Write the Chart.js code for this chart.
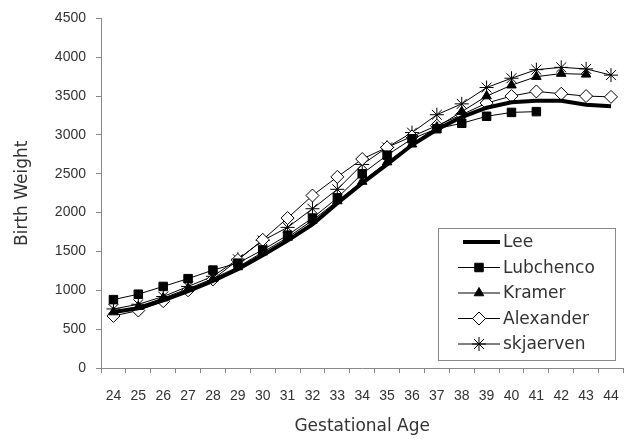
<!DOCTYPE html>
<html>
<head>
<meta charset="utf-8">
<script src="https://cdn.jsdelivr.net/npm/chart.js@4"></script>
<style>
  html, body { margin: 0; padding: 0; background: #fff; }
  #wrap { width: 634px; height: 444px; }
</style>
</head>
<body>
<div id="wrap"><canvas id="myChart" width="634" height="444"></canvas></div>
<script>
var weeks = ['24', '25', '26', '27', '28', '29', '30', '31', '32', '33', '34', '35', '36', '37', '38', '39', '40', '41', '42', '43', '44'];
var lee = [720, 770, 870, 990, 1120, 1270, 1450, 1640, 1850, 2120, 2380, 2620, 2870, 3070, 3230, 3350, 3420, 3440, 3440, 3390, 3370];
var lubchenco = [880, 950, 1050, 1150, 1260, 1350, 1520, 1710, 1930, 2190, 2500, 2740, 2950, 3080, 3150, 3240, 3290, 3300, null, null, null];
var kramer = [720, 790, 900, 1020, 1150, 1300, 1490, 1680, 1900, 2150, 2400, 2650, 2880, 3100, 3300, 3500, 3640, 3750, 3790, 3780, null];
var alexander = [670, 740, 860, 1000, 1140, 1390, 1650, 1930, 2220, 2460, 2690, 2840, 2980, 3120, 3260, 3410, 3500, 3560, 3530, 3500, 3490];
var skjaerven = [760, 820, 920, 1050, 1180, 1400, 1640, 1810, 2050, 2300, 2620, 2840, 3030, 3260, 3400, 3610, 3730, 3840, 3870, 3850, 3770];
var yTicks = [0, 500, 1000, 1500, 2000, 2500, 3000, 3500, 4000, 4500];

var fontName = "'Liberation Sans', 'DejaVu Sans', sans-serif";
var titleFont = "'DejaVu Sans', sans-serif";
var txt = '#333';

// legend drawn inside the plot, lower right, like the original
var boxLegend = {
    id: 'boxLegend',
    afterDraw: function(chart) {
        var ctx = chart.ctx;
        var x0 = 438, y0 = 228, w = 177, h = 132;
        ctx.save();
        ctx.fillStyle = '#fff';
        ctx.fillRect(x0, y0, w, h);
        ctx.strokeStyle = '#888';
        ctx.lineWidth = 1;
        ctx.strokeRect(x0 + 0.5, y0 + 0.5, w, h);
        chart.data.datasets.forEach(function(ds, i) {
            var y = 242 + i * 25.5;
            ctx.strokeStyle = '#000';
            ctx.lineWidth = ds.borderWidth;
            ctx.beginPath();
            ctx.moveTo(i === 0 ? 463 : 458, y);
            ctx.lineTo(500, y);
            ctx.stroke();
            if (ds.pointRadius > 0) {
                ctx.fillStyle = ds.pointBackgroundColor;
                ctx.strokeStyle = '#000';
                ctx.lineWidth = 1;
                Chart.helpers.drawPoint(ctx, {
                    pointStyle: ds.pointStyle,
                    radius: ds.pointRadius,
                    borderWidth: 1
                }, 479, y);
            }
            ctx.fillStyle = txt;
            ctx.font = '17px ' + titleFont;
            ctx.textBaseline = 'middle';
            ctx.textAlign = 'left';
            ctx.fillText(ds.label, 503, y + 1);
        });
        ctx.restore();
    }
};

function series(label, data, style, radius, fill, width) {
    return {
        label: label,
        data: data,
        borderColor: '#000',
        borderWidth: width,
        pointStyle: style,
        pointRadius: radius,
        pointHoverRadius: radius,
        pointBackgroundColor: fill,
        pointBorderColor: '#000',
        pointBorderWidth: 1,
        tension: 0,
        spanGaps: false
    };
}

var cvas = document.getElementById('myChart').getContext('2d');
var myChart = new Chart(cvas, {
    type: 'line',
    data: {
        labels: weeks,
        datasets: [
            series('Lee', lee, 'circle', 0, '#000', 4),
            series('Lubchenco', lubchenco, 'rect', 6, '#000', 1),
            series('Kramer', kramer, 'triangle', 5.5, '#000', 1),
            series('Alexander', alexander, 'rectRot', 6.5, '#fff', 1),
            series('skjaerven', skjaerven, 'star', 7, '#000', 1)
        ]
    },
    options: {
        responsive: false,
        animation: false,
        layout: { padding: { top: 10, right: 9, left: 0, bottom: 0 } },
        plugins: {
            legend: { display: false },
            tooltip: { enabled: false }
        },
        scales: {
            x: {
                offset: true,
                grid: {
                    offset: true,
                    drawOnChartArea: false,
                    drawTicks: true,
                    tickLength: 5,
                    color: '#888'
                },
                border: { color: '#888', width: 1 },
                ticks: {
                    color: txt,
                    font: { family: fontName, size: 14 },
                    padding: 15,
                    maxRotation: 0,
                    autoSkip: false
                },
                title: {
                    display: true,
                    text: 'Gestational Age',
                    color: txt,
                    font: { family: titleFont, size: 17 },
                    padding: { top: 0, bottom: 7 }
                },
                afterFit: function(scale) { scale.height = 76; }
            },
            y: {
                min: 0,
                max: 4500,
                afterBuildTicks: function(scale) {
                    scale.ticks = yTicks.map(function(v) { return { value: v }; });
                },
                grid: {
                    drawOnChartArea: false,
                    drawTicks: true,
                    tickLength: 5,
                    color: '#888'
                },
                border: { color: '#888', width: 1 },
                ticks: {
                    color: txt,
                    font: { family: fontName, size: 14 },
                    padding: 10,
                    callback: function(v) { return String(v); }
                },
                title: {
                    display: true,
                    text: 'Birth Weight',
                    color: txt,
                    font: { family: titleFont, size: 17 },
                    padding: { top: 12, bottom: 0 }
                },
                afterFit: function(scale) { scale.width = 101; }
            }
        }
    },
    plugins: [boxLegend]
});
</script>
</body>
</html>
